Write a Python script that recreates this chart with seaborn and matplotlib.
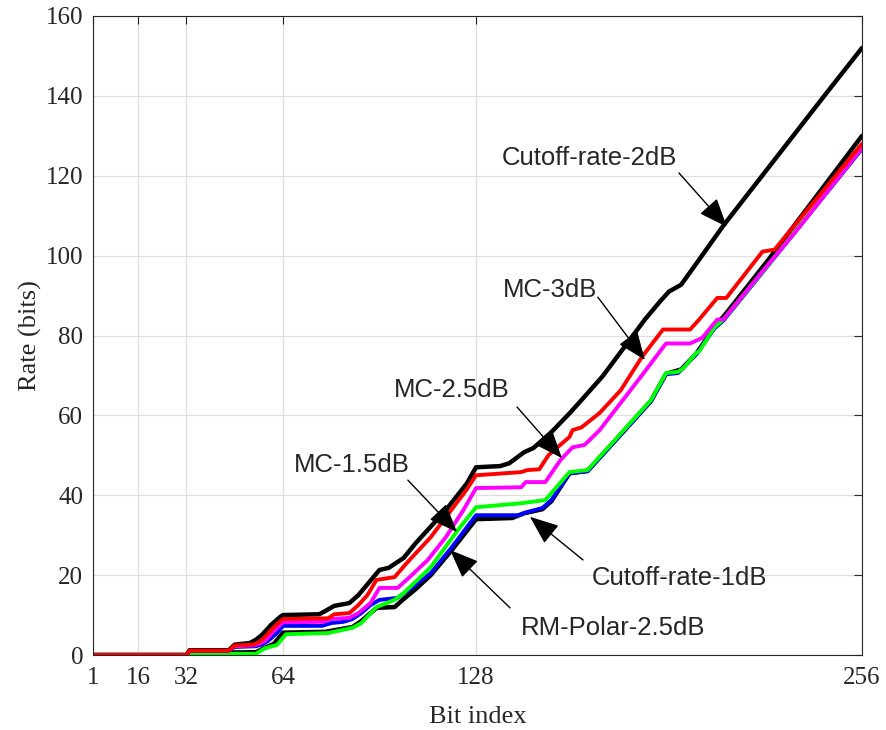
import matplotlib
matplotlib.use("Agg")
import matplotlib.pyplot as plt
import seaborn as sns
import pandas as pd

# curve values (bit index, rate in bits)
c2_x = [1, 32, 33, 46, 48, 53, 55, 57, 60, 63, 64, 76, 78, 81, 86, 89, 96, 99, 104, 108, 118, 125, 128,
        136, 139, 144, 147, 153, 159, 162, 170, 184, 189, 192, 196, 202, 210, 244, 256]
c2_y = [0, 0, 1.2, 1.2, 2.6, 3, 3.8, 5, 7.5, 9.5, 10, 10.2, 11, 12.3, 13, 15, 21.3, 21.8, 24.3, 28, 36.3, 43, 47,
        47.3, 48, 50.8, 51.8, 55.8, 60.5, 63, 69.8, 84, 88.5, 91, 92.7, 99, 107.5, 140.5, 152]

mc3_x = [1, 32, 33, 46, 48, 54, 56, 58, 61, 64, 79, 81, 86, 89, 92, 95, 101, 105, 113, 120, 125, 128,
         143, 145, 149, 152, 155, 159, 160, 163, 169, 176, 183, 190, 199, 202, 208, 211, 223, 227, 256]
mc3_y = [0, 0, 1.1, 1.1, 2.4, 2.6, 3.2, 4.5, 7, 9, 9.2, 10.2, 10.5, 12.5, 15, 18.8, 19.5, 23, 29.5, 36.5, 41.5, 45,
         45.8, 46.3, 46.5, 50, 52, 54.6, 56.3, 57, 60.6, 66.3, 74.6, 81.5, 81.5, 84, 89.4, 89.4, 101, 101.5, 128]

mc25_x = [1, 32, 33, 46, 48, 54, 56, 58, 61, 64, 77, 80, 86, 89, 93, 96, 102, 106, 112, 118, 124, 128,
          143, 144.5, 151, 156, 160, 164, 169, 183, 191, 199, 203, 208, 210, 224, 234, 256]
mc25_y = [0, 0, 1, 1, 2.2, 2.4, 2.8, 3.5, 6, 8.2, 8.3, 9, 9.3, 10.5, 13, 16.8, 16.8, 19.5, 23.8, 29.5, 36.5, 41.8,
          42, 43.3, 43.3, 48.8, 52, 52.6, 56.3, 70, 78, 78, 79.4, 84, 84, 97, 106, 127]

rm_x = [1, 32, 33, 46, 48, 55, 57, 59, 62, 64, 77, 80, 84, 87, 90, 93, 96, 102, 107, 113, 120, 128,
        142, 145, 150, 153, 159, 165, 175, 186, 191, 195, 201, 207, 210, 224, 256]
rm_y = [0, 0, 0.9, 0.9, 2, 2.2, 2.6, 3.5, 5.5, 7.3, 7.3, 8, 8.3, 9, 10.5, 12.5, 13.8, 14.3, 17, 20.5, 27, 35,
        35, 35.8, 36.8, 38.8, 45.5, 46, 54.3, 63.5, 70.3, 70.6, 75.3, 81.7, 83.7, 96.7, 126.7]

mc15_x = [1, 32, 33, 55, 58, 62, 65, 79, 87, 90, 95, 101, 104, 113, 122, 128, 143, 151, 159, 165, 175, 177,
          186, 191, 195, 197, 201, 202, 207, 210, 224, 256]
mc15_y = [0, 0, 0.3, 0.3, 1.7, 2.5, 5.2, 5.5, 6.8, 8, 12, 13.8, 15.5, 22, 31.3, 37, 38, 38.8, 45.8, 46.3, 54.6, 56.3,
          63.8, 70.6, 70.9, 72, 75.6, 76, 82, 84, 96.8, 127]

c1_x = [1, 32, 33, 55, 58, 61, 64, 78, 87, 90, 95, 101, 104, 108, 113, 120, 128, 140, 144, 150, 153, 159, 165,
        175, 186, 191, 196, 201, 207, 211, 225, 256]
c1_y = [0, 0, 0.5, 0.7, 1.8, 2.8, 5.6, 5.8, 7, 8.5, 11.8, 12, 14, 16.5, 20, 26.3, 34, 34.3, 35.5, 36.5, 38.5, 45.5, 46.1,
        54.4, 63.6, 70.4, 71.5, 75.4, 82, 85.6, 99, 130]

x_ticks = [1, 16, 32, 64, 128, 256]
y_ticks = [0, 20, 40, 60, 80, 100, 120, 140, 160]

# label text, text centre, arrow tail, arrow tip
notes = [
    ("Cutoff-rate-2dB", (165.6, 124.4), (195.3, 120.7), (211.2, 107.2)),
    ("MC-3dB", (152.5, 91.4), (168.4, 89.6), (184.0, 73.9)),
    ("MC-2.5dB", (120.0, 66.3), (141.6, 62.1), (156.5, 49.3)),
    ("MC-1.5dB", (86.9, 47.6), (105.4, 43.8), (121.7, 30.8)),
    ("Cutoff-rate-1dB", (195.6, 19.3), (163.5, 23.8), (145.9, 34.6)),
    ("RM-Polar-2.5dB", (173.6, 6.8), (139.3, 11.8), (119.4, 26.3)),
]

# drawing order: bottom to top
curves = [
    (c1_x, c1_y, "black", 3.2),
    (rm_x, rm_y, "#0000ff", 2.8),
    (mc15_x, mc15_y, "#00ff00", 2.8),
    (mc25_x, mc25_y, "#ff00ff", 2.8),
    (c2_x, c2_y, "black", 3.2),
    (mc3_x, mc3_y, "#ff0000", 2.8),
]

sns.set_style("white")
plt.rcParams['font.family'] = ['Liberation Serif', 'DejaVu Serif']

fig = plt.figure(figsize=(8.87, 7.30), dpi=100)
ax = fig.add_axes([93 / 887, 75 / 730, 769 / 887, 639 / 730])

for xs, ys, col, lw in curves:
    df = pd.DataFrame({"x": xs, "y": ys})
    sns.lineplot(data=df, x="x", y="y", color=col, linewidth=lw, estimator=None, sort=False, ax=ax)

ax.set_xlim(1, 256)
ax.set_ylim(0, 160)
ax.set_xticks(x_ticks)
ax.set_yticks(y_ticks)
ax.grid(True, color="#dedede", linewidth=0.9)
ax.set_axisbelow(True)
ax.tick_params(direction="in", length=6, width=0.8, top=True, right=True, labelsize=18, colors="#262626")
ax.tick_params(axis="x", pad=9)
ax.tick_params(axis="y", pad=7)
for sp in ax.spines.values():
    sp.set_color("#262626")
    sp.set_linewidth(0.8)
    sp.set_visible(True)
ax.set_xlabel("Bit index", fontsize=19, color="#262626", labelpad=12)
ax.set_ylabel("Rate (bits)", fontsize=19, color="#262626", labelpad=3)

for txt, pos, tail, tip in notes:
    ax.text(pos[0], pos[1], txt, ha="center", va="center", fontsize=18.5,
            family=["Liberation Sans", "DejaVu Sans"])
    ax.annotate("", xy=tip, xytext=tail,
                arrowprops=dict(arrowstyle="-|>,head_length=1.0,head_width=0.4",
                                mutation_scale=18, color="black", lw=1.0,
                                shrinkA=0, shrinkB=0))

fig.savefig("out.png", dpi=100)
